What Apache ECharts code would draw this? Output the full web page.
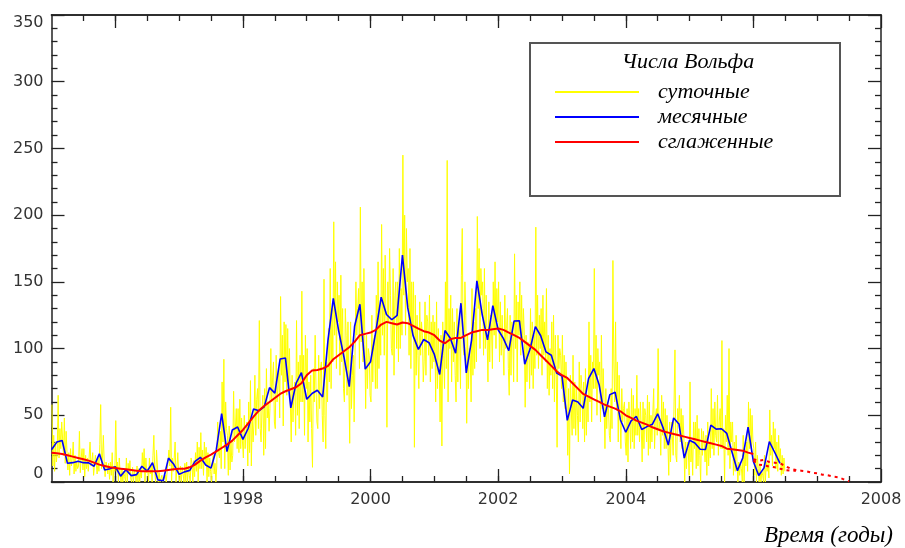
<!DOCTYPE html>
<html>
<head>
<meta charset="utf-8">
<script src="https://cdn.jsdelivr.net/npm/echarts@6/dist/echarts.min.js"></script>
<style>
html,body{margin:0;padding:0;background:#fff;}
#chart{width:905px;height:548px;}
</style>
</head>
<body>
<div id="chart"></div>
<script>
// ---- data ----
const startYear = 1995;
const labelYears = [1996, 1998, 2000, 2002, 2004, 2006, 2008];
const halfYearTicks = [1995.5,1996,1996.5,1997,1997.5,1998,1998.5,1999,1999.5,2000,2000.5,2001,2001.5,2002,2002.5,2003,2003.5,2004,2004.5,2005,2005.5,2006,2006.5,2007,2007.5];

// monthly Wolf numbers, Jan 1995 .. Jun 2006
const monthlyWolf = [
  24.2,29.9,31.1,14.0,14.5,15.6,14.5,14.3,11.8,21.1,9.0,10.0,
  11.5,4.4,9.2,4.8,5.5,11.8,8.2,14.4,1.6,0.9,17.9,13.3,
  5.7,7.6,8.7,15.5,18.5,12.7,10.4,24.4,51.3,22.8,39.0,41.2,
  31.9,40.3,54.8,53.4,56.3,70.7,66.6,92.2,92.9,55.5,74.0,81.9,
  62.0,66.3,68.8,63.7,106.4,137.7,113.5,93.7,71.5,116.7,133.2,84.6,
  90.1,112.9,138.5,125.5,121.6,124.9,170.1,130.5,109.7,99.4,106.8,104.4,
  95.6,80.6,113.5,107.7,96.6,134.0,81.8,106.4,150.7,125.5,106.5,132.2,
  114.1,107.4,98.4,120.7,120.8,88.3,99.6,116.4,109.6,97.5,95.0,81.6,
  79.5,46.2,61.5,60.0,55.2,77.4,85.0,72.7,48.8,65.5,67.3,46.5,
  37.3,45.8,49.1,39.3,41.5,43.2,51.1,40.9,27.7,48.0,43.5,17.9,
  31.3,29.2,24.5,24.4,42.6,39.6,39.9,36.4,22.1,8.5,18.0,41.2,
  15.3,4.9,10.6,30.2,22.3,13.9
];

// smoothed Wolf numbers, Jan 1995 .. Jan 2006
const smoothedWolf = [
  22,21.5,21,20,19,18,17,16,14.5,13,12,11,
  10.5,10,9.5,9,8.5,8,8,8,8,8.5,9,9.5,
  10,10,11,13,16,18.5,20.5,23,25.5,28,31,35,
  39,44,49,53.5,57,60,63,66,68,69.5,71,74,
  80,83.5,84,85,87,92,95,98,101,105,110,111,
  112,114,118,120,119,118,119.5,119,117,115,113,112,
  110,106,104,107,108,108,110,112,113,114,114,114.5,
  115,114,112,110,108,105,102,99,95,91,87,83,
  80,78,74,70,66,64,62,60,58,56.5,55,53,
  50,48,46,44.5,43,41,39.5,38,37,36,35,34,
  33,32,31,30,29,28,27,25,24.5,24,23.5,22,
  21
];

// forecast (dotted), monthly from Jan 2006
const forecastWolf = [17,16,16.5,15,14.5,14,12,10,9,8.5,8,7,6.5,5.5,5,4,3.5,2,0.5];
const forecastLow = [16,13,12.5,11.5,11,10,9,8.5,8.5];

// daily Wolf numbers, 6 samples per month
const daily1995 = [58,12,35,8,30,15, 22,65,18,40,25,45, 45,20,48,14,38,22, 9,22,5,25,12,18, 30,6,20,8,15,10, 12,38,7,18,25,9, 25,4,20,10,18,8, 8,30,12,15,22,5, 5,20,14,6,18,8, 28,58,10,18,35,14, 4,15,12,6,14,2, 15,5,22,0,12,8];
const daily1996 = [46,8,15,0,18,6, 0,10,0,8,4,0, 18,0,14,6,16,2, 0,11,0,9,5,0, 12,0,10,0,8,3, 22,8,25,0,18,7, 10,0,18,6,12,0, 20,35,8,0,24,12, 0,7,0,0,5,0, 0,0,5,0,0,0, 24,12,56,0,18,8, 18,30,0,10,22,5];
const daily1997 = [0,12,0,11,6,0, 14,0,15,0,12,5, 0,18,14,0,16,4, 22,8,30,0,26,10, 37,10,24,5,30,14, 26,0,22,4,18,8, 0,15,20,6,14,0, 12,45,22,18,38,10, 75,30,92,10,60,40, 35,5,42,9,30,15, 20,68,30,40,55,25, 55,22,62,25,48,30];
const daily1998 = [18,50,25,38,45,12, 60,22,76,12,48,30, 45,80,35,62,70,40, 121,40,30,55,65,20, 70,25,85,48,60,38, 55,100,60,78,90,45, 40,95,60,72,85,48, 139,80,110,42,120,75, 118,65,115,70,100,60, 30,80,45,68,75,35, 121,50,90,40,95,60, 143,60,95,35,110,70];
const daily1999 = [100,30,75,45,80,40, 11,85,60,110,70,45, 40,95,55,85,90,50, 30,152,50,25,90,60, 115,75,160,70,130,90, 195,110,165,85,150,120, 140,80,155,90,130,70, 60,130,110,65,120,75, 29,120,55,80,95,45, 95,150,110,130,145,85, 206,105,150,90,160,110, 55,110,70,100,95,65];
const daily2000 = [60,125,75,105,110,70, 140,70,165,85,130,95, 193,110,160,95,170,120, 41,150,120,175,140,100, 95,160,80,140,150,100, 150,90,175,100,145,110, 245,140,200,110,190,150, 160,95,175,85,150,110, 150,26,140,80,125,95, 70,135,95,120,110,75, 90,135,80,125,120,95, 140,75,120,85,125,90];
const daily2001 = [120,60,135,70,115,85, 45,110,27,120,95,70, 150,85,241,60,130,100, 140,75,130,90,120,80, 60,130,75,120,110,70, 155,190,100,95,150,125, 44,110,70,100,95,60, 145,80,120,85,130,90, 199,130,175,100,160,140, 150,95,160,100,140,110, 75,135,90,125,115,85, 150,110,165,100,145,120];
const daily2002 = [150,90,135,95,125,100, 80,140,100,115,130,85, 65,125,80,120,110,75, 171,100,140,75,135,110, 150,95,140,100,130,110, 56,110,75,105,100,70, 130,80,120,70,110,85, 191,95,140,85,125,100, 130,80,140,95,120,90, 145,70,110,65,100,80, 120,70,125,60,110,85, 26,110,85,100,95,70];
const daily2003 = [110,60,95,55,90,70, 20,70,6,80,55,35, 95,40,75,35,70,50, 30,90,45,80,70,40, 75,30,85,35,65,45, 120,60,95,45,90,70, 160,70,110,50,100,80, 90,45,110,55,85,60, 25,70,40,60,55,35, 30,70,40,166,90,60, 120,55,90,30,80,50, 25,70,45,55,60,30];
const daily2004 = [20,55,15,60,45,25, 70,30,65,25,55,35, 80,35,55,30,60,40, 15,60,25,55,50,30, 65,20,60,25,50,30, 30,70,25,50,55,35, 100,40,45,20,65,35, 60,25,55,25,50,30, 5,45,15,45,35,20, 60,99,20,15,55,45, 65,30,55,25,50,35, 0,30,10,30,25,5];
const daily2005 = [75,15,30,5,45,25, 45,10,50,12,40,20, 0,40,20,38,30,15, 35,5,45,12,30,18, 70,25,55,20,60,35, 30,65,20,45,55,25, 106,25,40,0,50,30, 65,20,100,10,45,30, 45,5,30,8,35,15, 0,15,5,14,10,0, 35,0,25,12,30,8, 60,25,55,25,50,30];
const daily2006 = [25,5,30,0,20,10, 0,12,0,8,5,0, 20,0,15,8,14,3, 54,20,35,12,45,25, 40,10,30,8,35,15, 25,5,20,6,18,8];

const dailyWolf = [].concat(daily1995,daily1996,daily1997,daily1998,daily1999,daily2000,daily2001,daily2002,daily2003,daily2004,daily2005,daily2006);
const samplesPerMonth = 6;

// ---- build series data (x = decimal year) ----
const monthX = (m) => startYear + m / 12;
const dailyData = dailyWolf.map((v, i) => [startYear + (i + 0.5) / samplesPerMonth / 12, v]);
const monthlyData = monthlyWolf.map((v, i) => [monthX(i), v]);
const smoothedData = smoothedWolf.map((v, i) => [monthX(i), v]);
const forecastData = forecastWolf.map((v, i) => [monthX(132 + i), v]);
const forecastLowData = forecastLow.map((v, i) => [monthX(132 + i), v]);

const axisColor = '#222';
const labelFont = {color: '#333', fontFamily: 'DejaVu Sans', fontSize: 16};
const scriptFont = 'Liberation Serif';

function xAx(position, major, showLabel) {
  return {
    type: 'value', min: 1995, max: 2008, position: position,
    axisLine: {show: true, onZero: false, lineStyle: {color: axisColor, width: 1.5}},
    axisTick: major
      ? {show: true, inside: true, length: 13, customValues: labelYears, lineStyle: {color: axisColor, width: 1.3}}
      : {show: true, inside: true, length: 6, customValues: halfYearTicks, lineStyle: {color: axisColor, width: 1.3}},
    axisLabel: showLabel
      ? Object.assign({show: true, margin: 10, customValues: labelYears, formatter: (v) => String(v)}, labelFont)
      : {show: false},
    splitLine: {show: false}
  };
}
function yAx(position, showLabel) {
  return {
    type: 'value', min: 0, max: 350, interval: 50, position: position,
    axisLine: {show: true, onZero: false, lineStyle: {color: axisColor, width: 1.5}},
    axisTick: {show: true, inside: true, length: 13, lineStyle: {color: axisColor, width: 1.3}},
    minorTick: {show: true, splitNumber: 5, length: 6, lineStyle: {color: axisColor, width: 1.3}},
    axisLabel: showLabel
      ? Object.assign({show: true, margin: 8, verticalAlignMinLabel: 'bottom', verticalAlignMaxLabel: 'top'}, labelFont)
      : {show: false},
    splitLine: {show: false}
  };
}

const chart = echarts.init(document.getElementById('chart'), null, {renderer: 'canvas'});
chart.setOption({
  animation: false,
  backgroundColor: '#fff',
  grid: {left: 51.5, right: 24, top: 15, bottom: 66, containLabel: false},
  xAxis: [xAx('bottom', true, true), xAx('bottom', false, false), xAx('top', true, false), xAx('top', false, false)],
  yAxis: [yAx('left', true), yAx('right', false)],
  legend: {
    data: ['суточные', 'месячные', 'сглаженные'],
    orient: 'vertical', left: 550, top: 76,
    icon: 'rect', itemWidth: 84, itemHeight: 2, itemGap: 3,
    textStyle: {fontFamily: scriptFont, fontStyle: 'italic', fontSize: 22, color: '#000', padding: [0, 0, 0, 14], lineHeight: 21}
  },
  graphic: [
    {type: 'rect', shape: {x: 530, y: 43, width: 310, height: 153}, style: {fill: 'rgba(255,255,255,0)', stroke: '#555', lineWidth: 2}, z: 10},
    {type: 'text', x: 688, y: 62, style: {text: 'Числа Вольфа', fill: '#000', font: 'italic 22px "Liberation Serif"', textAlign: 'center', textVerticalAlign: 'middle'}, z: 10},
    {type: 'text', x: 893, y: 536, style: {text: 'Время (годы)', fill: '#000', font: 'italic 23px "Liberation Serif"', textAlign: 'right', textVerticalAlign: 'middle'}, z: 10}
  ],
  series: [
    {name: 'суточные', type: 'line', data: dailyData, showSymbol: false, symbol: 'none', sampling: null,
     lineStyle: {color: '#ffff00', width: 1}, itemStyle: {color: '#ffff00'}, clip: true, z: 2},
    {name: 'месячные', type: 'line', data: monthlyData, symbol: 'none',
     lineStyle: {color: '#0000ff', width: 1.6}, itemStyle: {color: '#0000ff'}, clip: true, z: 3},
    {name: 'сглаженные', type: 'line', data: smoothedData, symbol: 'none',
     lineStyle: {color: '#ff0000', width: 2}, itemStyle: {color: '#ff0000'}, clip: true, z: 4},
    {name: 'прогноз', type: 'line', data: forecastData, symbol: 'none',
     lineStyle: {color: '#ff0000', width: 2, type: [3, 4]}, itemStyle: {color: '#ff0000'}, clip: true, z: 4},
    {name: 'прогноз2', type: 'line', data: forecastLowData, symbol: 'none',
     lineStyle: {color: '#ff0000', width: 2, type: [3, 4]}, itemStyle: {color: '#ff0000'}, clip: true, z: 4}
  ]
});
</script>
</body>
</html>
